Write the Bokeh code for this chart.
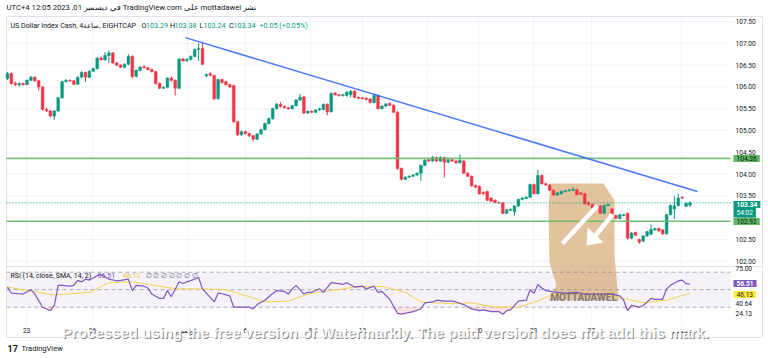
from bokeh.plotting import figure
from bokeh.models import (Range1d, FixedTicker, PrintfTickFormatter, Label, BoxAnnotation,
                          LinearAxis)
from bokeh.embed import file_html
from bokeh.resources import INLINE

# ---------------- data ----------------
opens = [106.19,106.31,106.08,106.05,106.08,106.05,106.15,106.22,106.14,106.00,
         105.48,105.45,105.33,105.45,105.75,106.12,106.15,106.14,106.06,106.22,
         106.33,106.22,106.36,106.42,106.66,106.62,106.72,106.78,106.55,106.50,
         106.45,106.52,106.70,106.24,106.38,106.46,106.44,106.40,106.35,106.08,
         105.97,105.99,106.20,106.15,105.97,106.64,106.60,106.63,106.70,106.86,
         106.88,106.25,106.30,106.26,105.73,106.17,106.12,106.05,106.03,105.20,
         104.90,104.97,104.93,104.88,104.80,104.92,105.02,105.16,105.27,105.50,
         105.60,105.55,105.52,105.50,105.57,105.70,105.77,105.40,105.44,105.42,
         105.47,105.48,105.60,105.43,105.86,105.82,105.80,105.80,105.82,105.90,
         105.76,105.75,105.74,105.72,105.64,105.80,105.50,105.56,105.62,105.58,
         105.42,104.13,103.88,103.93,103.95,103.98,104.02,104.20,104.33,104.30,
         104.38,104.30,104.38,104.27,104.33,104.30,104.26,104.30,104.02,103.95,
         103.74,103.72,103.58,103.60,103.45,103.40,103.35,103.34,103.10,103.17,
         103.14,103.27,103.42,103.44,103.47,103.76,103.55,103.97,103.78,103.75,
         103.63,103.52,103.55,103.60,103.62,103.63,103.64,103.57,103.55,103.35,
         103.30,103.22,103.27,103.10,103.28,103.20,103.05,102.98,103.05,103.10,
         102.53,102.66,102.50,102.46,102.58,102.62,102.72,102.75,102.72,102.63,
         103.07,103.20,103.28,103.47,103.26,103.29]
closes = [106.31,106.08,106.05,106.08,106.05,106.15,106.22,106.14,106.00,105.48,
          105.45,105.33,105.45,105.75,106.12,106.15,106.14,106.06,106.22,106.33,
          106.22,106.36,106.42,106.66,106.62,106.72,106.78,106.55,106.50,106.45,
          106.52,106.70,106.24,106.38,106.45,106.44,106.40,106.35,106.08,105.97,
          105.99,106.20,106.15,105.97,106.64,106.60,106.63,106.70,106.86,106.88,
          106.52,106.28,106.27,105.73,106.17,106.10,106.05,106.00,105.20,104.90,
          104.97,104.93,104.88,104.80,104.92,105.02,105.16,105.27,105.50,105.60,
          105.55,105.52,105.50,105.57,105.70,105.76,105.40,105.44,105.42,105.47,
          105.50,105.60,105.43,105.85,105.82,105.80,105.82,105.88,105.90,105.76,
          105.74,105.73,105.71,105.64,105.80,105.50,105.56,105.61,105.58,105.42,
          104.13,103.88,103.93,103.95,103.98,104.02,104.20,104.32,104.30,104.38,
          104.30,104.38,104.27,104.33,104.30,104.26,104.32,104.02,103.95,103.73,
          103.70,103.55,103.55,103.40,103.38,103.35,103.34,103.10,103.18,103.19,
          103.27,103.42,103.45,103.47,103.76,103.55,103.97,103.78,103.75,103.63,
          103.52,103.57,103.60,103.62,103.63,103.65,103.53,103.54,103.32,103.30,
          103.22,103.27,103.10,103.28,103.30,103.10,102.98,103.07,103.07,102.53,
          102.65,102.60,102.44,102.58,102.68,102.73,102.75,102.70,102.63,103.07,
          103.28,103.27,103.45,103.45,103.33,103.34]
highs = [106.34,106.33,106.12,106.10,106.10,106.17,106.25,106.24,106.16,106.02,
         105.52,105.47,105.47,105.77,106.14,106.18,106.17,106.16,106.24,106.36,
         106.35,106.38,106.44,106.68,106.70,106.80,106.83,106.80,106.57,106.52,
         106.54,106.75,106.72,106.40,106.48,106.50,106.46,106.42,106.37,106.10,
         106.01,106.22,106.24,106.17,106.66,106.67,106.66,106.72,106.88,107.00,
         107.02,106.31,106.34,106.28,106.19,106.19,106.14,106.07,106.05,105.22,
         105.00,104.99,104.95,104.90,104.94,105.04,105.18,105.30,105.52,105.63,
         105.65,105.58,105.54,105.59,105.72,105.84,105.79,105.46,105.46,105.49,
         105.52,105.62,105.62,105.87,105.88,105.84,105.84,105.90,105.93,105.92,
         105.78,105.77,105.76,105.74,105.85,105.82,105.58,105.63,105.64,105.60,
         105.44,104.15,103.95,103.97,104.00,104.04,104.22,104.34,104.35,104.42,
         104.40,104.41,104.40,104.35,104.35,104.32,104.45,104.32,104.04,103.97,
         103.76,103.74,103.60,103.62,103.47,103.42,103.37,103.36,103.20,103.21,
         103.29,103.44,103.47,103.49,103.78,103.78,104.10,103.99,103.80,103.77,
         103.65,103.59,103.62,103.64,103.66,103.70,103.66,103.59,103.57,103.37,
         103.32,103.29,103.29,103.30,103.32,103.22,103.07,103.09,103.09,103.12,
         102.67,102.68,102.52,102.60,102.70,102.85,102.77,102.77,102.74,103.09,
         103.30,103.50,103.55,103.49,103.35,103.38]
lows = [106.16,106.05,106.02,106.00,106.03,106.04,106.13,106.12,105.92,105.46,
        105.43,105.30,105.25,105.43,105.73,106.10,106.12,106.04,106.05,106.20,
        106.12,106.20,106.35,106.40,106.60,106.60,106.55,106.52,106.47,106.43,
        106.43,106.50,106.20,106.22,106.36,106.42,106.38,106.33,106.05,105.95,
        105.95,105.97,106.12,105.80,105.95,106.57,106.58,106.61,106.68,106.60,
        106.50,106.22,106.24,105.70,105.71,106.08,106.03,105.98,105.18,104.87,
        104.88,104.91,104.85,104.75,104.78,104.90,105.00,105.14,105.25,105.48,
        105.53,105.50,105.48,105.48,105.55,105.68,105.38,105.38,105.40,105.40,
        105.45,105.46,105.35,105.41,105.80,105.78,105.78,105.78,105.76,105.74,
        105.72,105.71,105.69,105.62,105.62,105.48,105.48,105.54,105.56,105.40,
        104.10,103.85,103.86,103.91,103.93,103.96,103.85,104.18,104.28,104.28,
        104.28,104.28,103.92,104.25,104.28,104.24,104.24,104.00,103.93,103.71,
        103.68,103.53,103.53,103.38,103.36,103.33,103.32,103.08,103.08,103.15,
        103.05,103.25,103.40,103.42,103.45,103.53,103.53,103.76,103.73,103.61,
        103.50,103.50,103.53,103.58,103.60,103.61,103.51,103.52,103.30,103.28,
        103.20,103.20,103.08,103.08,103.26,103.08,102.96,102.96,103.03,102.50,
        102.51,102.58,102.40,102.44,102.56,102.60,102.70,102.68,102.61,102.61,
        103.05,102.97,103.26,103.43,103.24,103.24]

date_ticks = [4.9, 21.8, 46.2, 61.0, 77.7, 91.0, 107.7, 120.8, 134.9, 149.7, 172.8]
date_labels = ["23", "26", "نوفمبر", "6", "9", "13", "16", "20", "23", "27", "ديسمبر"]
price_ticks = [102.0, 102.5, 103.0, 103.5, 104.0, 104.5, 105.0, 105.5, 106.0, 106.5, 107.0, 107.5]
levels = [104.36, 102.92]
last_price = 103.34
trend_x = [45.6, 176.9]
trend_y = [107.13, 103.60]

rsi_idx = [0,1,3,4,6,7,9,11,12,13,14,16,17,18,19,20,21,23,24,26,28,29,31,32,33,35,36,37,39,40,
           41,42,44,45,46,48,49,50,53,54,55,57,58,60,62,63,64,66,67,69,71,72,73,74,76,77,78,80,81,83,
           85,86,87,89,91,92,94,95,96,98,100,101,104,106,107,109,110,112,114,115,117,119,121,122,124,126,127,128,129,131,
           133,134,135,136,137,138,141,143,146,148,152,155,157,158,159,160,162,163,164,165,166,168,169,170,172,173,174,175]
rsi_val = [53,46,45.4,45,50,45,30,26,32,55,55,54,55,60.6,59,62,61,66,67,62,60,60.6,62,49,55,54,52,45,40,40,
           49,42,59,57,59,62,64,51,36,46,45.4,43,30,30,30,28,33,38,42,49,48,45,51,55,45,47,47,51,47,58,
           57,56,58,53,54,51,54,47,48,39,23,22,25,28,35,36,38,37,37,36,33,28,26,27,25,25,22,26,27,37,
           38,50,46,56,52,49,47,46,47,45,45,45,43,38,26,32,30,32,36,40,39,39,51,55,60,61,57,56.51]
sma_idx = [0,12,21,26,32,39,43,49,56,62,66,72,77,83,89,96,102,106,114,119,125,131,136,140,147,153,158,163,169,175]
sma_val = [53,44,47,58,59,54,51,51,50,42,36,37,45,49,53,54,47,36,34,35,30,30,37,45,46,44,40,35,38,46.13]
rsi_bands = [70, 50, 30]

# ---------------- geometry: frame = whole canvas, page px <-> data ----------------
W, H = 768, 358
STEP = 3.9                    # px per candle
X0 = 7.0                      # page x of candle 0
PPU = 43.6                    # px per price unit
P_REF, Y_REF = 107.5, 21.0    # price 107.5 sits at page y 21
R_PPU = 0.875                 # px per RSI unit
R30_Y = 306.7                 # RSI 30 at page y

x_rng = Range1d(-X0 / STEP, (W - X0) / STEP)
y_rng = Range1d(P_REF - (H - Y_REF) / PPU, P_REF + Y_REF / PPU)
rsi_rng = Range1d(30 - (H - R30_Y) / R_PPU, 30 + R30_Y / R_PPU)

def X(px):
    return (px - X0) / STEP

def Y(py):
    return P_REF - (py - Y_REF) / PPU

UP, DN = "#089981", "#F23645"
FONT = "Roboto"
TXT = "#131722"
GRID = "#F0F3FA"
BORDER = "#E0E3EB"
L_EDGE, R_EDGE, AX_EDGE = 6, 730, 762      # pane left, pane right, widget right
TOP, SEP, PANE_BOT, BOT = 16, 266, 325, 337

p = figure(width=W, height=H, x_range=x_rng, y_range=y_rng, output_backend="svg",
           toolbar_location=None, x_axis_location=None, y_axis_location=None, min_border=0)
p.extra_y_ranges = {"rsi": rsi_rng}
p.background_fill_color = "white"
p.border_fill_color = "white"
p.outline_line_color = None
p.grid.grid_line_color = None

# axes drawn at fixed locations inside the canvas
ya = LinearAxis(fixed_location=X(R_EDGE), ticker=FixedTicker(ticks=price_ticks),
                formatter=PrintfTickFormatter(format="%.2f"))
xa = LinearAxis(fixed_location=Y(PANE_BOT), ticker=FixedTicker(ticks=date_ticks),
                major_label_overrides={t: l for t, l in zip(date_ticks, date_labels)})
for ax, so in ((ya, 5), (xa, 1)):
    ax.axis_line_color = None
    ax.major_tick_line_color = None
    ax.minor_tick_line_color = None
    ax.major_tick_out = 0
    ax.major_tick_in = 0
    ax.minor_tick_out = 0
    ax.major_label_standoff = so
    ax.major_label_text_font_size = "6.6px"
    ax.major_label_text_color = TXT
    ax.major_label_text_font = FONT
p.add_layout(ya, "right")
p.add_layout(xa, "below")

# grid lines (from the tick arrays)
p.segment(x0=date_ticks, y0=[Y(TOP)] * len(date_ticks), x1=date_ticks, y1=[Y(PANE_BOT)] * len(date_ticks),
          line_color=GRID, line_width=1)
p.segment(x0=[X(L_EDGE)] * len(price_ticks), y0=price_ticks, x1=[X(R_EDGE)] * len(price_ticks),
          y1=price_ticks, line_color=GRID, line_width=1)

# widget border + pane separator
bx0 = [X(L_EDGE), X(L_EDGE), X(AX_EDGE), X(L_EDGE), X(L_EDGE)]
by0 = [Y(TOP), Y(BOT), Y(TOP), Y(TOP), Y(SEP)]
bx1 = [X(AX_EDGE), X(AX_EDGE), X(AX_EDGE), X(L_EDGE), X(AX_EDGE)]
by1 = [Y(TOP), Y(BOT), Y(BOT), Y(BOT), Y(SEP)]
p.segment(x0=bx0, y0=by0, x1=bx1, y1=by1, line_color=BORDER, line_width=1)

# ---------------- logo patch (below candles) ----------------
logo_px = [(550, 183), (603, 183), (614, 200), (614, 255), (618, 300),
           (548, 300), (556, 285), (549, 262), (548, 205)]
p.patch([X(a) for a, b in logo_px], [Y(b) for a, b in logo_px],
        fill_color="#D9AE7E", fill_alpha=0.75, line_color=None)

# ---------------- RSI pane ----------------
p.add_layout(BoxAnnotation(left=X(L_EDGE), right=X(R_EDGE), bottom=30, top=70, y_range_name="rsi",
                           fill_color="#7E57C2", fill_alpha=0.08, line_color=None, level="underlay"))
p.segment(x0=[X(L_EDGE)] * 3, y0=rsi_bands, x1=[X(R_EDGE)] * 3, y1=rsi_bands, y_range_name="rsi",
          line_color="#787B86", line_alpha=0.6, line_dash="4 3", line_width=1)
p.varea(x=rsi_idx, y1=[min(v, 30) for v in rsi_val], y2=[30] * len(rsi_val),
        y_range_name="rsi", fill_color=DN, fill_alpha=0.15)
p.line(sma_idx, sma_val, y_range_name="rsi", line_color="#F2D44E", line_width=1)
p.line(rsi_idx, rsi_val, y_range_name="rsi", line_color="#7E57C2", line_width=1.2)

# ---------------- candles ----------------
idx = list(range(len(closes)))
cols = [UP if c >= o else DN for o, c in zip(opens, closes)]
tops = [max(o, c) for o, c in zip(opens, closes)]
bots = [min(o, c) for o, c in zip(opens, closes)]
bots = [b if t - b > 0.012 else t - 0.012 for t, b in zip(tops, bots)]
p.segment(x0=idx, y0=lows, x1=idx, y1=highs, line_color=cols, line_width=1)
p.vbar(x=idx, width=0.7, top=tops, bottom=bots, fill_color=cols, line_color=cols, line_width=0.5)

# ---------------- drawings ----------------
p.segment(x0=[X(L_EDGE)] * len(levels), y0=levels, x1=[X(R_EDGE)] * len(levels), y1=levels,
          line_color="#66BB6A", line_width=1.6, line_alpha=0.9)
p.segment(x0=[X(L_EDGE)], y0=[last_price], x1=[X(R_EDGE)], y1=[last_price],
          line_color=UP, line_width=1, line_dash="1 2")
p.line(trend_x, trend_y, line_color="#2962FF", line_width=1.5, line_alpha=0.85)

# logo arrows (white) and text
p.line([X(562), X(597)], [Y(243), Y(205)], line_color="white", line_width=4.5)
p.line([X(612), X(595)], [Y(214), Y(235)], line_color="white", line_width=4.5)
p.patch([X(586), X(587), X(603)], [Y(245), Y(227), Y(242)], fill_color="white", line_color=None)
p.add_layout(Label(x=X(583), y=Y(297), text="MOTTADAWEL", text_font=FONT, text_font_style="bold",
                   text_font_size="10px", text_color="#666666", text_align="center",
                   text_baseline="middle", text_alpha=0.8))

# ---------------- texts ----------------
def lab(px, py, text, color=TXT, size="7px", align="left", bg=None, style="normal", pad=None, **kw):
    args = dict(x=X(px), y=Y(py), text=text, text_color=color, text_font=FONT,
                text_font_size=size, text_align=align, text_baseline="middle",
                text_font_style=style, **kw)
    if bg is not None:
        args["background_fill_color"] = bg
        args["padding"] = pad if pad is not None else (3, 1)
    p.add_layout(Label(**args))

lab(6, 7, "UTC+4 في ديسمبر 01, 2023 12:05 TradingView.com على mottadawel نشر", size="7.7px")
lab(10, 25, "US Dollar Index Cash, 4ساعة, EIGHTCAP", size="7.1px")
for px, t, c in [(141, "O", TXT), (145.5, "103.29", UP), (169.5, "H", TXT), (174, "103.38", UP),
                 (199, "L", TXT), (203, "103.24", UP), (228.5, "C", TXT), (233, "103.34", UP),
                 (259, "+0.05 (+0.05%)", UP)]:
    lab(px, 25, t, color=c, size="7.2px")

lab(10, 275, "RSI (14, close, SMA, 14, 2)", size="7px")
lab(97, 275, "56.51", color="#7E57C2", size="7px")
lab(122, 275, "46.13", color="#F2C94C", size="7px")
lab(145, 275, "∅  ∅  ∅  ∅  ∅  ∅  ∅", color="#787B86", size="7px")

# price scale badges
lab(733, 158, "104.36", color=TXT, size="6.6px", bg="#5CB860")
lab(733, 221, "102.92", color=TXT, size="6.6px", bg="#5CB860")
lab(733, 204, "103.34", color="white", size="6.6px", bg=UP, style="bold")
lab(733, 212, "54:02", color="white", size="6.6px", bg=UP)
lab(735, 268, "75.00", size="6.6px")
lab(733, 283, "56.51", color="white", size="6.6px", bg="#7E57C2", style="bold")
lab(733, 294, "46.13", color=TXT, size="6.6px", bg="#FFEB3B")
lab(735, 303, "40.64", size="6.6px")
lab(735, 313, "24.13", size="6.6px")

# watermark overlay
wm = "Processed using the free version of Watermarkly. The paid version does not add this mark."
p.add_layout(Label(x=X(385), y=Y(332), text=wm, text_font="Liberation Sans", text_font_style="bold",
                   text_font_size="15px", text_color="#6f6f6f", text_align="center",
                   text_baseline="middle", x_offset=1, y_offset=-1, text_alpha=0.8))
p.add_layout(Label(x=X(385), y=Y(332), text=wm, text_font="Liberation Sans", text_font_style="bold",
                   text_font_size="15px", text_color="white", text_align="center",
                   text_baseline="middle", text_alpha=0.95))

# TradingView logo
lab(7, 348, "17", color=TXT, size="9px", style="bold")
lab(21, 348, "TradingView", color=TXT, size="7.5px")

open("out.html", "w").write(file_html(p, INLINE))
